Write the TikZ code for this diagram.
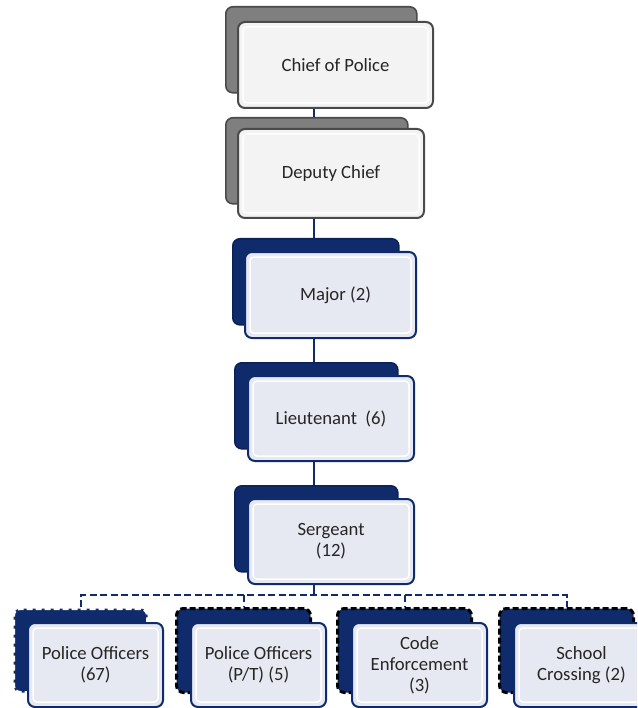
\documentclass[tikz,border=0pt]{standalone}
\usepackage{fontspec}
\setmainfont{Carlito}
\usetikzlibrary{calc}

\definecolor{navy}{HTML}{0F2B6B}
\definecolor{rankgray}{HTML}{7F7F7F}
\definecolor{rankedge}{HTML}{4A4A4A}
\definecolor{paleblue}{HTML}{E6E9F1}
\definecolor{palegray}{HTML}{F3F3F3}

\tikzset{
	box/.style={rounded corners=7pt, anchor=north west, inner sep=0pt,
		align=center, font=\fontsize{18.7}{21}\selectfont, text=black!85},
	bevel/.style={path picture={
		\draw[white, line width=1.5pt, rounded corners=4pt]
		([shift={(5pt,-5pt)}]path picture bounding box.north west) rectangle
		([shift={(-5pt,5pt)}]path picture bounding box.south east);}},
	backgray/.style={box, fill=rankgray, draw=rankedge, line width=1.6pt},
	frontgray/.style={box, bevel, fill=palegray, draw=rankedge, line width=2pt},
	backnavy/.style={box, fill=navy, draw=navy!80!black, line width=1.6pt},
	frontnavy/.style={box, bevel, fill=paleblue, draw=navy, line width=2pt},
	backdash/.style={box, fill=navy, draw=#1, line width=3pt, dash pattern=on 6pt off 3pt},
	link/.style={draw=navy, line width=2pt},
	buslink/.style={draw=navy, line width=2pt, dash pattern=on 7pt off 3.5pt}
}

\begin{document}
\begin{tikzpicture}[x=1pt,y=-1pt]
	\useasboundingbox (0,0) rectangle (637,708);
	\clip (0,0) rectangle (637,708);
	
	% Spine of the chart
	\coordinate (spine) at (314,0);
	\coordinate (bus) at (314,595);
	
	% Back boxes
	\node[backgray, minimum width=191pt, minimum height=86pt] (chiefbk) at (225,6) {};
	\node[backgray, minimum width=182pt, minimum height=86pt] (deputybk) at (225,117) {};
	\node[backnavy, minimum width=166pt, minimum height=86pt] (majorbk) at (232,238) {};
	\node[backnavy, minimum width=163pt, minimum height=86pt] (lieutbk) at (234,362) {};
	\node[backnavy, minimum width=163pt, minimum height=86pt] (sergbk) at (234,485) {};
	
	% Connectors
	\draw[link] (spine |- chiefbk.south) -- (spine |- deputybk.north);
	\draw[link] (spine |- deputybk.south) -- (spine |- majorbk.north);
	\draw[link] (spine |- majorbk.south) -- (spine |- lieutbk.north);
	\draw[link] (spine |- lieutbk.south) -- (spine |- sergbk.north);
	\draw[link] (spine |- sergbk.south) -- (bus);
	
	% Front boxes
	\node[frontgray, minimum width=195pt, minimum height=86pt] (chief) at (237,21) {Chief of Police};
	\node[frontgray, minimum width=186pt, minimum height=89pt] (deputy) at (237,128) {Deputy Chief};
	\node[frontnavy, minimum width=171pt, minimum height=86pt] (major) at (244,251) {\hspace*{10pt}Major (2)};
	\node[frontnavy, minimum width=166pt, minimum height=85pt] (lieut) at (247,375) {Lieutenant\ \ (6)};
	\node[frontnavy, minimum width=166pt, minimum height=85pt] (serg) at (247,498) {Sergeant\\(12)};
	
	% Bottom row
	\foreach \name/\x/\edge/\txt in {%
		offa/12/white/{Police Officers\\(67)},%
		offb/175/black/{Police Officers\\(P/T) (5)},%
		code/336/black/{Code\\Enforcement\\(3)},%
		school/498/black/{School\\Crossing (2)}}
	{
		\node[backdash=\edge, minimum width=134pt, minimum height=84pt] (\name bk) at (\x,607) {};
		\node[frontnavy, minimum width=135pt, minimum height=84pt] (\name) at (\x+15,622) {\txt};
	}
	
	% Bus to the bottom row
	\draw[buslink] (offabk.north) |- (bus) -| (schoolbk.north);
	\foreach \name in {offb,code}
	\draw[buslink] (bus -| \name bk.north) -- (\name bk.north);
\end{tikzpicture}
\end{document}
